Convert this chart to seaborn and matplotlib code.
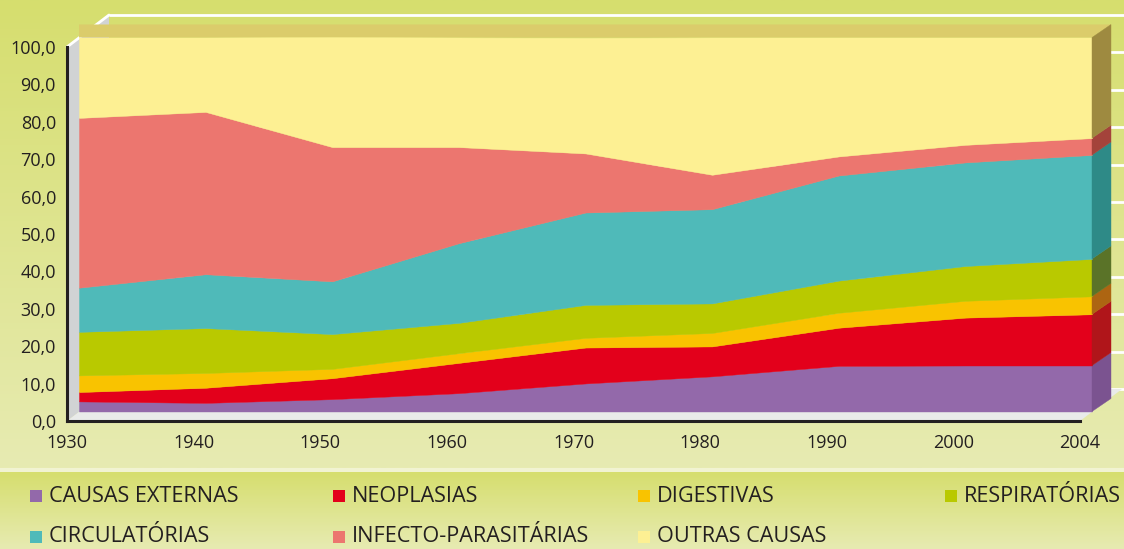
import numpy as np
import pandas as pd
import matplotlib
matplotlib.use("Agg")
import matplotlib.pyplot as plt
import seaborn as sns
from matplotlib.patches import Polygon, Rectangle
from matplotlib.colors import LinearSegmentedColormap

#----------------------------------
# Data (percent of deaths, stacked)
#----------------------------------
years = ["1930", "1940", "1950", "1960", "1970", "1980", "1990", "2000", "2004"]
causas_externas = [2.7, 2.3, 3.3, 4.9, 7.5, 9.4, 12.2, 12.3, 12.3]
neoplasias = [2.5, 4.05, 5.6, 8.1, 9.6, 8.0, 10.2, 12.8, 13.7]
digestivas = [4.45, 3.95, 2.5, 2.6, 2.6, 3.6, 4.0, 4.5, 4.8]
respiratorias = [11.65, 12.0, 9.3, 8.1, 8.8, 7.9, 8.6, 9.3, 10.0]
circulatorias = [11.8, 14.4, 14.1, 21.3, 24.7, 25.2, 28.1, 27.7, 27.8]
infecto = [45.4, 43.4, 35.9, 25.7, 15.8, 9.2, 5.1, 4.7, 4.5]
outras = [21.5, 19.9, 29.4, 29.3, 30.9, 36.7, 31.8, 28.7, 26.9]

labels = ["CAUSAS EXTERNAS", "NEOPLASIAS", "DIGESTIVAS", "RESPIRATÓRIAS",
          "CIRCULATÓRIAS", "INFECTO-PARASITÁRIAS", "OUTRAS CAUSAS"]
colors = ["#9369aa", "#e3001b", "#f9c300", "#b9c900",
          "#4fbab9", "#ec766f", "#fdf093"]
side_colors = ["#7b5390", "#b0151a", "#ad6512", "#5a7328",
               "#2e8a87", "#a4433b", "#9e8a40"]

df = pd.DataFrame({lab: vals for lab, vals in zip(
    labels, [causas_externas, neoplasias, digestivas, respiratorias,
             circulatorias, infecto, outras])})
df["ano"] = years
cum = df[labels].cumsum(axis=1)

#----------------------------------
# Style
#----------------------------------
sns.set_theme(style="white")
plt.rcParams["font.family"] = ["Open Sans", "DejaVu Sans"]
txt_color = "#231f20"

W, H = 1124, 549
fig = plt.figure(figsize=(W / 100, H / 100), dpi=100)

# background gradients
bg = fig.add_axes([0, 0, 1, 1], zorder=-5)
bg.set_axis_off()
grad = LinearSegmentedColormap.from_list("g", ["#d6de6e", "#e7ebb2"])
top_part = np.linspace(0, 1, 200).reshape(-1, 1)
bg.imshow(top_part, cmap=grad, aspect="auto", extent=[0, W, H - 468, H])
bg.imshow(top_part, cmap=grad, aspect="auto", extent=[0, W, 0, H - 472])
bg.add_patch(Rectangle((0, H - 472), W, 4, color="#f1f3d2", lw=0))
bg.set_xlim(0, W)
bg.set_ylim(0, H)

# main axes (front plane)
x0, x1, y0, y1 = 67, 1080, 421, 47
ax = fig.add_axes([x0 / W, (H - y0) / H, (x1 - x0) / W, (y0 - y1) / H])
ax.set_facecolor("none")
n = len(years)
xs = np.arange(n)
ax.set_xlim(0, n - 1)
ax.set_ylim(0, 100)

px_x = (n - 1) / (x1 - x0)
px_y = 100 / (y0 - y1)
dxf, dyf = 12 * px_x, 9.5 * px_y     # front face of the area
dxb, dyb = 31 * px_x, 22.5 * px_y    # back face of the area
dxw, dyw = 42 * px_x, 32 * px_y      # back wall
xend = n - 1

# back wall gridlines
for v in range(0, 101, 10):
    ax.plot([dxw, xend + dxw + 0.1], [v + dyw, v + dyw], color="white",
            lw=2, clip_on=False, zorder=1, solid_capstyle="butt")

# side wall and floor
ax.add_patch(Polygon([(0, 0), (dxw, dyw), (dxw, 100 + dyw), (0, 100)],
                     closed=True, color="#d1d3d4", lw=0, clip_on=False, zorder=2))
ax.plot([0, dxw], [100, 100 + dyw], color="white", lw=2, clip_on=False, zorder=2)
ax.add_patch(Polygon([(0, 0), (xend, 0), (xend + dxw, dyw), (dxw, dyw)],
                     closed=True, color="#e9ebea", lw=0, clip_on=False, zorder=2))

# top face
ax.add_patch(Polygon([(dxf, 100 + dyf), (xend + dxf, 100 + dyf),
                      (xend + dxb, 100 + dyb), (dxf, 100 + dyb)],
                     closed=True, color="#dbcc6b", lw=0, clip_on=False, zorder=3))

# stacked areas with right side faces
lower = np.zeros(n)
for i, lab in enumerate(labels):
    upper = cum[lab].values
    ax.fill_between(xs + dxf, lower + dyf, upper + dyf, color=colors[i],
                    lw=0.3, edgecolor=colors[i], clip_on=False, zorder=4)
    lo, hi = lower[-1], upper[-1]
    ax.add_patch(Polygon([(xend + dxf, lo + dyf), (xend + dxf, hi + dyf),
                          (xend + dxb, hi + dyb), (xend + dxb, lo + dyb)],
                         closed=True, color=side_colors[i], lw=0.3,
                         clip_on=False, zorder=4))
    lower = upper

# axes, ticks
for s in ["top", "right"]:
    ax.spines[s].set_visible(False)
for s in ["left", "bottom"]:
    ax.spines[s].set_color(txt_color)
    ax.spines[s].set_linewidth(2.2)
    ax.spines[s].set_zorder(6)
ax.set_yticks(np.arange(0, 101, 10))
ax.set_yticklabels([f"{v:.1f}".replace(".", ",") for v in range(0, 101, 10)])
ax.set_xticks(xs)
ax.set_xticklabels(df["ano"])
ax.tick_params(axis="both", direction="out", length=5, width=1.8,
               color=txt_color, labelcolor=txt_color, labelsize=13, pad=3)
ax.tick_params(axis="x", pad=4)
ax.grid(False)

# legend
leg_x = [30, 333, 638, 945]
leg_y = [496, 537]
for i, lab in enumerate(labels):
    r, c = divmod(i, 4)
    sx, sy = leg_x[c], leg_y[r]
    fig.add_artist(Rectangle((sx / W, (H - sy - 6) / H), 12 / W, 12 / H,
                             color=colors[i], lw=0, transform=fig.transFigure))
    fig.text((sx + 19) / W, (H - sy) / H, lab, color=txt_color, fontsize=15.6,
             va="center", ha="left")

fig.savefig("out.png", dpi=100)
